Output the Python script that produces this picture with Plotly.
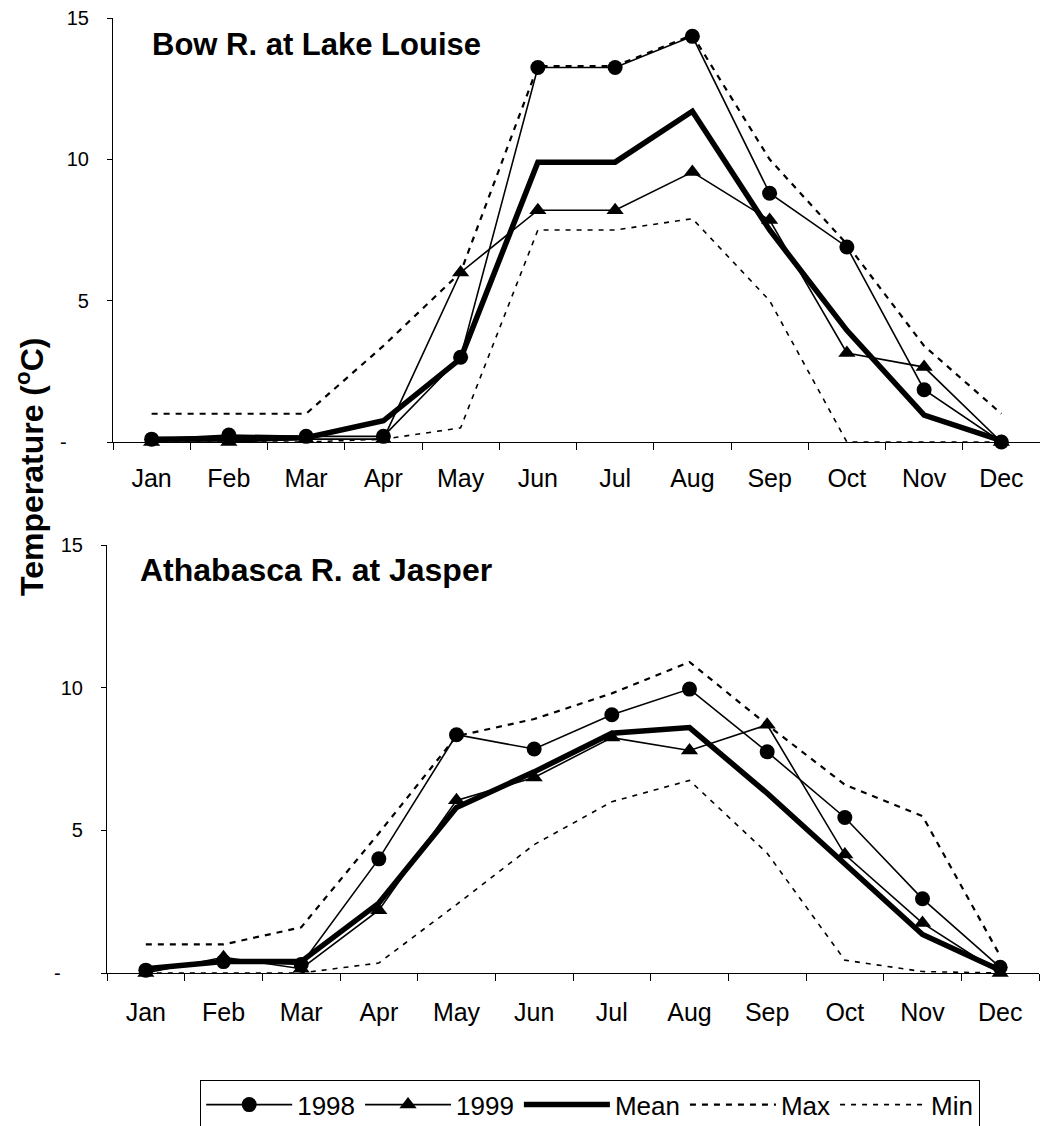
import plotly.graph_objects as go

# Monthly stream temperatures (°C)
months = ["Jan", "Feb", "Mar", "Apr", "May", "Jun", "Jul", "Aug", "Sep", "Oct", "Nov", "Dec"]

bow_1998 = [0.1, 0.25, 0.2, 0.2, 3.0, 13.25, 13.25, 14.35, 8.8, 6.9, 1.85, 0.0]
bow_1999 = [0.0, 0.0, 0.1, 0.1, 6.0, 8.2, 8.2, 9.55, 7.85, 3.15, 2.65, 0.0]
bow_mean = [0.1, 0.12, 0.15, 0.75, 2.95, 9.9, 9.9, 11.7, 7.5, 3.95, 0.95, 0.05]
bow_max = [1.0, 1.0, 1.0, 3.4, 6.0, 13.3, 13.3, 14.4, 10.0, 7.0, 3.4, 1.0]
bow_min = [0.0, 0.0, 0.0, 0.1, 0.5, 7.5, 7.5, 7.9, 5.0, 0.0, 0.0, 0.0]

ath_1998 = [0.1, 0.4, 0.3, 4.0, 8.35, 7.85, 9.05, 9.95, 7.75, 5.45, 2.6, 0.2]
ath_1999 = [0.0, 0.55, 0.15, 2.2, 6.05, 6.85, 8.25, 7.8, 8.7, 4.15, 1.75, 0.0]
ath_mean = [0.15, 0.4, 0.4, 2.45, 5.8, 7.05, 8.4, 8.6, 6.3, 3.85, 1.35, 0.1]
ath_max = [1.0, 1.0, 1.6, 4.9, 8.3, 8.9, 9.8, 10.9, 8.7, 6.6, 5.5, 0.6]
ath_min = [0.0, 0.0, 0.0, 0.35, 2.4, 4.5, 6.0, 6.75, 4.2, 0.45, 0.05, 0.0]

y_ticks = [0, 5, 10, 15]
y_tick_text = ["-\u00a0\u00a0\u00a0\u00a0", "5", "10", "15"]

FONT = "Arial, Liberation Sans, sans-serif"
W, H = 1040, 1126

fig = go.Figure()


def add_panel(xa, ya, s98, s99, smean, smax, smin, legend):
    common = dict(x=months, xaxis=xa, yaxis=ya, cliponaxis=False, showlegend=legend)
    fig.add_trace(go.Scatter(y=s98, name="1998", mode="lines+markers",
                             line=dict(color="black", width=1.6),
                             marker=dict(symbol="circle", size=15, color="black"), **common))
    fig.add_trace(go.Scatter(y=s99, name="1999", mode="lines+markers",
                             line=dict(color="black", width=1.6),
                             marker=dict(symbol="triangle-up", size=15, color="black"), **common))
    fig.add_trace(go.Scatter(y=smean, name="Mean", mode="lines",
                             line=dict(color="black", width=5.5), **common))
    fig.add_trace(go.Scatter(y=smax, name="Max", mode="lines",
                             line=dict(color="black", width=2.2, dash="6px,6px"), **common))
    fig.add_trace(go.Scatter(y=smin, name="Min", mode="lines",
                             line=dict(color="black", width=1.6, dash="5px,6px"), **common))


add_panel("x", "y", bow_1998, bow_1999, bow_mean, bow_max, bow_min, True)
add_panel("x2", "y2", ath_1998, ath_1999, ath_mean, ath_max, ath_min, False)

xaxis_style = dict(
    type="category", range=[-0.5, 11.5], showline=True, linecolor="black", linewidth=1.2,
    ticks="outside", tickson="boundaries", ticklen=7, tickcolor="black", tickwidth=1.2,
    showgrid=False, zeroline=False, automargin=False,
    tickfont=dict(family=FONT, size=25, color="black"),
)
yaxis_style = dict(
    range=[0, 15], tickvals=y_ticks, ticktext=y_tick_text, showline=True, linecolor="black",
    linewidth=1.2, ticks="outside", ticklen=5, tickcolor="black", tickwidth=1.2,
    showgrid=False, zeroline=False, automargin=False,
    tickfont=dict(family=FONT, size=20, color="black"), ticklabelstandoff=14,
)

fig.update_layout(
    width=W, height=H,
    margin=dict(l=0, r=0, t=0, b=0, autoexpand=False),
    paper_bgcolor="white", plot_bgcolor="white",
    xaxis=dict(domain=[113 / W, 1.0], anchor="y", ticklabelstandoff=14, **xaxis_style),
    yaxis=dict(domain=[1 - 442 / H, 1 - 18 / H], anchor="x", **yaxis_style),
    xaxis2=dict(domain=[107 / W, 1039 / W], anchor="y2", ticklabelstandoff=17, **xaxis_style),
    yaxis2=dict(domain=[1 - 973 / H, 1 - 545 / H], anchor="x2", **yaxis_style),
    legend=dict(
        orientation="h", x=200 / W, y=1 - 1080 / H, xanchor="left", yanchor="top",
        bordercolor="black", borderwidth=1.2, bgcolor="white",
        font=dict(family=FONT, size=26, color="black"),
        itemwidth=86, tracegroupgap=0,
    ),
    annotations=[
        dict(text="<b>Bow R. at Lake Louise</b>", xref="paper", yref="paper",
             x=150 / W, y=1 - 45 / H, xanchor="left", yanchor="middle", showarrow=False,
             font=dict(family=FONT, size=31, color="black")),
        dict(text="<b>Athabasca R. at Jasper</b>", xref="paper", yref="paper",
             x=138 / W, y=1 - 570 / H, xanchor="left", yanchor="middle", showarrow=False,
             font=dict(family=FONT, size=32, color="black")),
        dict(text="<b>Temperature (<sup>o</sup>C)</b>", xref="paper", yref="paper",
             x=30 / W, y=1 - 467 / H, xanchor="center", yanchor="middle", showarrow=False,
             textangle=-90, font=dict(family=FONT, size=32, color="black")),
    ],
)

fig.write_html("out.html")
